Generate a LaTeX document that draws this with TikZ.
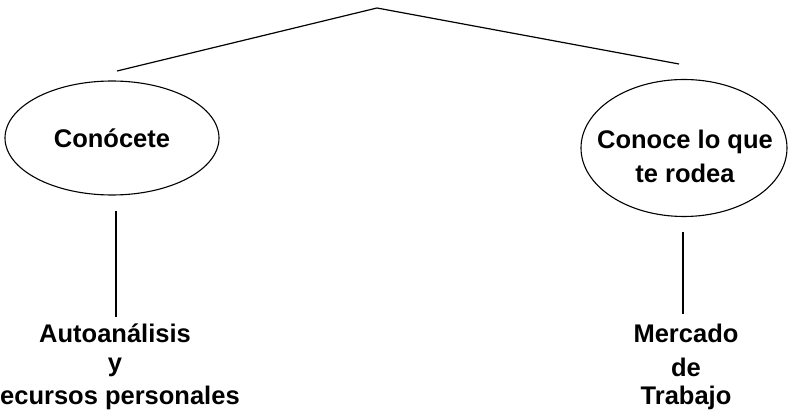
\documentclass[tikz,border=0pt]{standalone}
\usepackage{fontspec}
\setmainfont{Liberation Sans}
\usetikzlibrary{shapes.geometric}
\begin{document}
\begin{tikzpicture}[x=1pt,y=-1pt,
  lbl/.style={inner sep=0pt,font=\fontsize{25.5}{30}\selectfont\bfseries},
  oval/.style={ellipse,draw,line width=1.1pt,inner sep=0pt,align=center,font=\fontsize{25.5}{30}\selectfont\bfseries},
  conn/.style={line width=1.2pt}]
\useasboundingbox (0,0) rectangle (788,417);
% top branching
\coordinate (apex) at (377,8);
\coordinate (lend) at (117,71);
\coordinate (rend) at (679,64);
\draw[conn] (lend) -- (apex) -- (rend);
% ellipses
\node[oval,minimum width=214pt,minimum height=114pt] (lell) at (112,138) {Conócete};
\node[oval,minimum width=206pt,minimum height=137pt] (rell) at (684,148) {};
\node[lbl] (r1) at (685,142) {Conoce lo que};
\node[lbl] (r2) at (685,173) {te rodea};
% bottom labels
\node[lbl] (la) at (115,333) {Autoanálisis};
\node[lbl] (ly) at (115,367) {y};
\node[lbl,anchor=west] (lr) at (0,398) {ecursos personales};
\node[lbl] (rm) at (686,333) {Mercado};
\node[lbl] (rd) at (686,367) {de};
\node[lbl] (rt) at (686,398) {Trabajo};
% vertical connectors
\coordinate (l1) at (116,211);
\coordinate (l2) at (116,317);
\coordinate (r1t) at (683,232);
\coordinate (r2t) at (683,314);
\draw[conn] (l1) -- (l2);
\draw[conn] (r1t) -- (r2t);
\end{tikzpicture}
\end{document}
